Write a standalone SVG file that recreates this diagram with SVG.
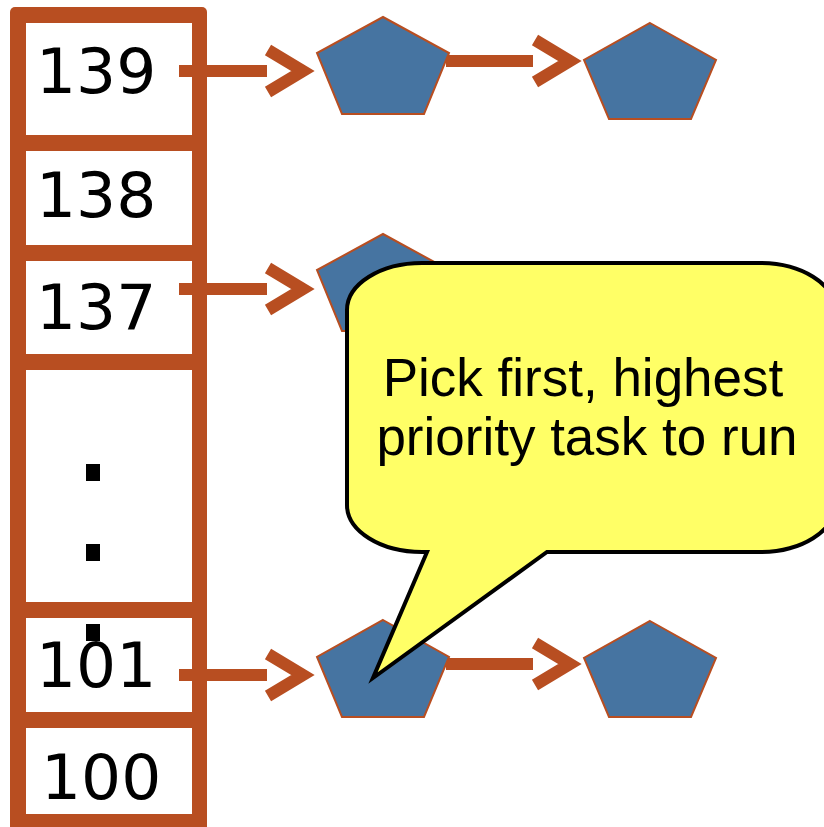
<svg xmlns="http://www.w3.org/2000/svg" width="824" height="827" viewBox="0 0 824 827">
<style>
.cell{fill:#FFFFFF}
.num{font-family:"DejaVu Sans",sans-serif;font-size:63px;fill:#000}
.dot{fill:#000}
.task{fill:#4674A1;stroke:#B84E21;stroke-width:2;stroke-linejoin:miter}
.shaft{stroke:#B84E21;stroke-width:12;fill:none}
.head{stroke:#B84E21;stroke-width:12;fill:none;stroke-linejoin:miter;stroke-miterlimit:10}
.callout{fill:#FFFF66;stroke:#000;stroke-width:4;stroke-linejoin:miter}
.ctext{font-family:"Liberation Sans",Arial,sans-serif;font-size:53px;fill:#000;text-anchor:middle}
</style>
<g id="queue">
  <rect x="10" y="7" width="197" height="830" rx="5" fill="#B84E21"/>
  <g id="cell-139"><rect class="cell" x="26" y="23" width="166" height="112"/><text class="num" x="36" y="93">139</text></g>
  <g id="cell-138"><rect class="cell" x="26" y="151" width="166" height="94"/><text class="num" x="36" y="217">138</text></g>
  <g id="cell-137"><rect class="cell" x="26" y="261" width="166" height="93"/><text class="num" x="36" y="329">137</text></g>
  <g id="cell-dots"><rect class="cell" x="26" y="370" width="166" height="232"/>
    <rect class="dot" x="86" y="464" width="14" height="17"/>
    <rect class="dot" x="86" y="544" width="14" height="17"/>
  </g>
  <g id="cell-101"><rect class="cell" x="26" y="618" width="166" height="94"/><text class="num" x="36" y="687">101</text>
    <rect class="dot" x="86" y="624" width="14" height="17"/></g>
  <g id="cell-100"><rect class="cell" x="26" y="728" width="166" height="86"/><text class="num" x="41" y="799">100</text></g>
</g>
<g id="connectors">
  <line class="shaft" x1="179" y1="71" x2="267" y2="71"/>
  <polyline class="head" points="268,50 303,71 268,92"/>
  <line class="shaft" x1="179" y1="289" x2="267" y2="289"/>
  <polyline class="head" points="268,268 303,289 268,310"/>
  <line class="shaft" x1="179" y1="675" x2="267" y2="675"/>
  <polyline class="head" points="268,654 303,675 268,696"/>
  <line class="shaft" x1="446" y1="61" x2="533" y2="61"/>
  <polyline class="head" points="535,40 570,61 535,82"/>
  <line class="shaft" x1="446" y1="664" x2="533" y2="664"/>
  <polyline class="head" points="535,643 570,664 535,685"/>
</g>
<g id="task-139-a"><polygon class="task" points="383,17 449,53 424,114 342,114 317,53"/></g>
<g id="task-139-b"><polygon class="task" points="650,23 716,60 691,119 609,119 584,60"/></g>
<g id="task-137-a"><polygon class="task" points="383,234 449,270 424,331 342,331 317,270"/></g>
<g id="task-101-a"><polygon class="task" points="383,620 449,657 424,717 342,717 317,657"/></g>
<g id="task-101-b"><polygon class="task" points="650,621 716,658 691,717 609,717 584,658"/></g>
<g id="callout">
  <path class="callout" d="M 422 263 H 760 A 75 47 0 0 1 835 310 V 505 A 75 47 0 0 1 760 552 H 547 L 373 678 L 427 552 H 422 A 75 47 0 0 1 347 505 V 310 A 75 47 0 0 1 422 263 Z"/>
  <text class="ctext" x="583" y="396">Pick first, highest</text>
  <text class="ctext" x="587" y="455">priority task to run</text>
</g>
</svg>
